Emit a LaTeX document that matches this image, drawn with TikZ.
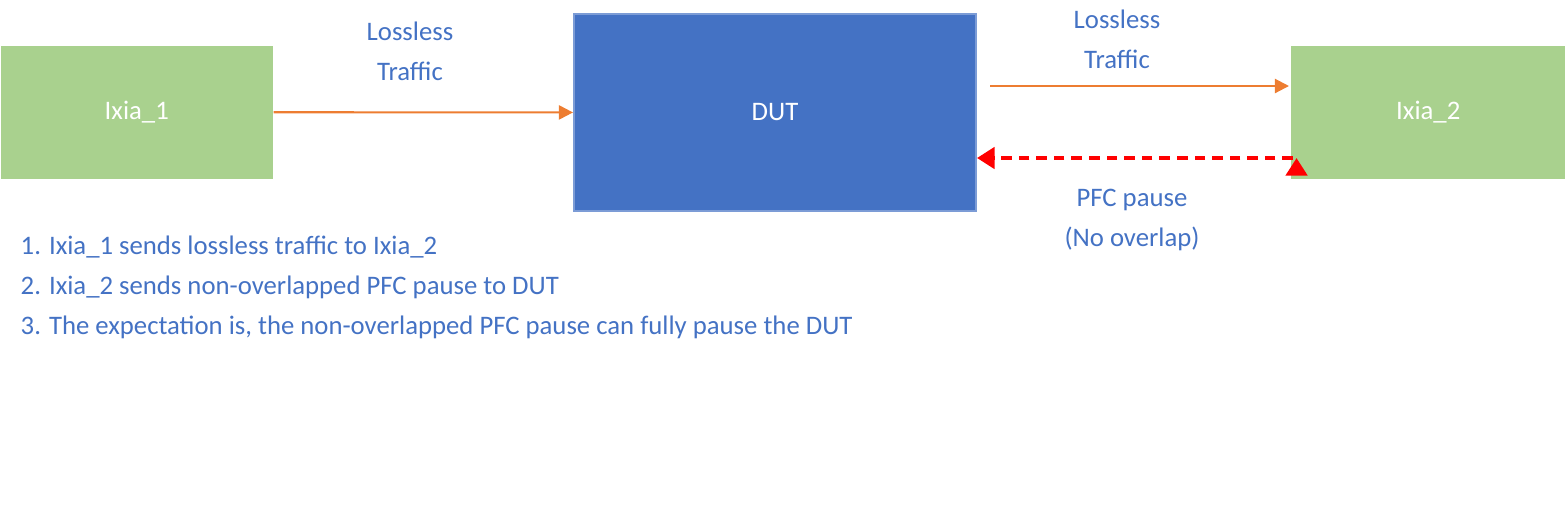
\documentclass[tikz,border=0pt]{standalone}
\usepackage{fontspec}
\setmainfont{Carlito}
\usetikzlibrary{arrows.meta}
\definecolor{grn}{HTML}{A9D18E}
\definecolor{blu}{HTML}{4472C4}
\definecolor{org}{HTML}{ED7D31}
\begin{document}
\begin{tikzpicture}[x=0.01cm,y=-0.01cm,
  box/.style={draw=none,minimum height=1.33cm,inner sep=0,text=white,font=\fontsize{7.6}{9}\selectfont},
  lbl/.style={text=blu,font=\fontsize{7.6}{11.4}\selectfont,align=center,inner sep=0},
  oarr/.style={draw=org,line width=0.6pt,-{Triangle[length=4pt,width=4pt]}},
  rarr/.style={draw=red,line width=1.2pt,dash pattern=on 3pt off 2pt,-{Triangle[length=5pt,width=6pt]}}]
\useasboundingbox (0,0) rectangle (1565,505);
\node[box,fill=grn,minimum width=2.72cm,anchor=north west] (i1) at (0,45) {Ixia\_1};
\node[box,fill=blu,draw=blu!70!white,line width=0.5pt,minimum width=4.02cm,minimum height=1.97cm,anchor=north west] (dut) at (573,13) {DUT};
\node[box,fill=grn,minimum width=2.75cm,anchor=north west] (i2) at (1290,45) {Ixia\_2};
\coordinate (a2s) at (990,86);
\coordinate (a2e) at (1289,86);
\coordinate (a3e) at (977,158);
\draw[oarr] (i1.east) -- (dut.west);
\draw[oarr] (a2s) -- (a2e);
\draw[rarr] (i2.east |- a3e) ++(-270,0) coordinate (a3s);
\draw[rarr] (1293,158) coordinate (r0) -- (a3e);
\node[lbl] (l1) at (410,51) {Lossless\\Traffic};
\node[lbl] (l2) at (1117,39) {Lossless\\Traffic};
\node[lbl] (l3) at (1132,220) {PFC pause\\(No overlap)};
\node[lbl,align=left,anchor=north west] (list) at (20,235) {1. Ixia\_1 sends lossless traffic to Ixia\_2\\2. Ixia\_2 sends non-overlapped PFC pause to DUT\\3. The expectation is, the non-overlapped PFC pause can fully pause the DUT};
\end{tikzpicture}
\end{document}
